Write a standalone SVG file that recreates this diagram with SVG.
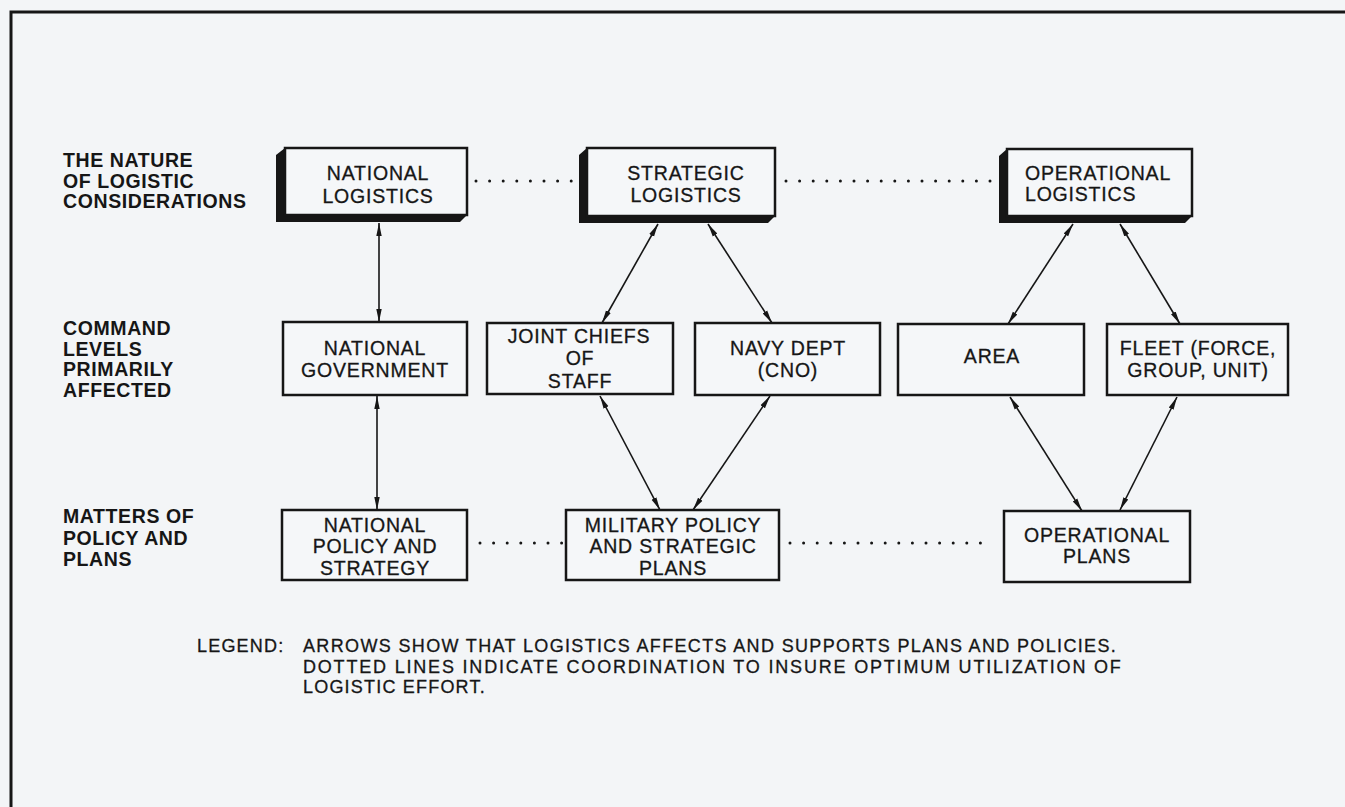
<svg xmlns="http://www.w3.org/2000/svg" width="1345" height="807" viewBox="0 0 1345 807">
  <style>
    .bg { fill: #f3f5f7; }
    .frame { stroke: #161616; stroke-width: 3; fill: none; }
    .box { fill: #f5f7f9; stroke: #161616; stroke-width: 2.5; }
    .shadow { fill: #161616; }
    .t { font-family: "Liberation Sans", Arial, sans-serif; font-size: 19.5px; letter-spacing: 0.8px; fill: #161616; stroke: #161616; stroke-width: 0.3; text-anchor: middle; }
    .tl { text-anchor: start; }
    .lbl { font-family: "Liberation Sans", Arial, sans-serif; font-size: 19.5px; font-weight: bold; letter-spacing: 0.6px; fill: #161616; }
    .leg { font-family: "Liberation Sans", Arial, sans-serif; font-size: 18px; letter-spacing: 1.2px; fill: #161616; stroke: #161616; stroke-width: 0.3; }
    .arrow { stroke: #161616; stroke-width: 1.6; fill: none; marker-start: url(#head); marker-end: url(#head); }
    .dots { stroke: #161616; stroke-width: 3; stroke-linecap: round; stroke-dasharray: 0 13.6; fill: none; }
  </style>
  <defs>
    <marker id="head" viewBox="0 0 13 7" refX="13" refY="3.5" markerWidth="13" markerHeight="7" markerUnits="userSpaceOnUse" orient="auto-start-reverse">
      <path d="M0,0.8 L13,3.5 L0,6.2 Z" fill="#161616"/>
    </marker>
  </defs>

  <rect class="bg" x="0" y="0" width="1345" height="807"/>
  <path class="frame" d="M11,807 V12 H1345"/>

  <!-- row headings -->
  <g id="label-nature">
    <text class="lbl" x="63" y="167">THE NATURE</text>
    <text class="lbl" x="63" y="187.5">OF LOGISTIC</text>
    <text class="lbl" x="63" y="208">CONSIDERATIONS</text>
  </g>
  <g id="label-command">
    <text class="lbl" x="63" y="335">COMMAND</text>
    <text class="lbl" x="63" y="355.5">LEVELS</text>
    <text class="lbl" x="63" y="376">PRIMARILY</text>
    <text class="lbl" x="63" y="397">AFFECTED</text>
  </g>
  <g id="label-matters">
    <text class="lbl" x="63" y="523">MATTERS OF</text>
    <text class="lbl" x="63" y="544.5">POLICY AND</text>
    <text class="lbl" x="63" y="566">PLANS</text>
  </g>

  <!-- connectors -->
  <g id="connectors">
    <line class="dots" x1="476" y1="181" x2="572" y2="181"/>
    <line class="dots" x1="786" y1="181" x2="994" y2="181"/>
    <line class="dots" x1="480" y1="543" x2="562" y2="543"/>
    <line class="dots" x1="790" y1="543" x2="992" y2="543"/>

    <line class="arrow" x1="379" y1="223" x2="379" y2="322"/>
    <line class="arrow" x1="377" y1="396" x2="377" y2="510"/>
    <line class="arrow" x1="658" y1="224" x2="602" y2="323"/>
    <line class="arrow" x1="708" y1="224" x2="772" y2="323"/>
    <line class="arrow" x1="1073" y1="224" x2="1008" y2="324"/>
    <line class="arrow" x1="1120" y1="224" x2="1180" y2="324"/>
    <line class="arrow" x1="600" y1="396" x2="660" y2="510"/>
    <line class="arrow" x1="770" y1="396" x2="693" y2="510"/>
    <line class="arrow" x1="1010" y1="397" x2="1082" y2="511"/>
    <line class="arrow" x1="1177" y1="397" x2="1120" y2="510"/>
  </g>

  <!-- top row: raised boxes -->
  <g id="national-logistics">
    <polygon class="shadow" points="285,148 276,155 276,222 460,222 467,215"/>
    <rect class="box" x="285" y="148" width="182" height="67"/>
    <text class="t" x="378" y="180">NATIONAL</text>
    <text class="t" x="378" y="203">LOGISTICS</text>
  </g>
  <g id="strategic-logistics">
    <polygon class="shadow" points="587,148 579,155 579,223 768,223 775,216"/>
    <rect class="box" x="587" y="148" width="188" height="68"/>
    <text class="t" x="686" y="180">STRATEGIC</text>
    <text class="t" x="686" y="202">LOGISTICS</text>
  </g>
  <g id="operational-logistics">
    <polygon class="shadow" points="1007,149 999,156 999,223 1185,223 1192,216"/>
    <rect class="box" x="1007" y="149" width="185" height="67"/>
    <text class="t tl" x="1025" y="180">OPERATIONAL</text>
    <text class="t tl" x="1025" y="201">LOGISTICS</text>
  </g>

  <!-- middle row: command levels -->
  <g id="national-government">
    <rect class="box" x="283" y="322" width="184" height="73"/>
    <text class="t" x="375" y="355">NATIONAL</text>
    <text class="t" x="375" y="377">GOVERNMENT</text>
  </g>
  <g id="joint-chiefs">
    <rect class="box" x="487" y="323" width="186" height="71"/>
    <text class="t" x="579" y="343">JOINT CHIEFS</text>
    <text class="t" x="580" y="365">OF</text>
    <text class="t" x="580" y="388">STAFF</text>
  </g>
  <g id="navy-dept">
    <rect class="box" x="695" y="323" width="185" height="72"/>
    <text class="t" x="788" y="355">NAVY DEPT</text>
    <text class="t" x="788" y="377">(CNO)</text>
  </g>
  <g id="area">
    <rect class="box" x="898" y="324" width="186" height="71"/>
    <text class="t" x="992" y="363">AREA</text>
  </g>
  <g id="fleet">
    <rect class="box" x="1107" y="324" width="181" height="71"/>
    <text class="t" x="1198" y="355">FLEET (FORCE,</text>
    <text class="t" x="1198" y="377">GROUP, UNIT)</text>
  </g>

  <!-- bottom row: policy and plans -->
  <g id="national-policy">
    <rect class="box" x="282" y="510" width="185" height="70"/>
    <text class="t" x="375" y="532">NATIONAL</text>
    <text class="t" x="375" y="553">POLICY AND</text>
    <text class="t" x="375" y="575">STRATEGY</text>
  </g>
  <g id="military-policy">
    <rect class="box" x="566" y="510" width="213" height="70"/>
    <text class="t" x="673" y="532">MILITARY POLICY</text>
    <text class="t" x="673" y="553">AND STRATEGIC</text>
    <text class="t" x="673" y="575">PLANS</text>
  </g>
  <g id="operational-plans">
    <rect class="box" x="1004" y="511" width="186" height="71"/>
    <text class="t" x="1097" y="542">OPERATIONAL</text>
    <text class="t" x="1097" y="563">PLANS</text>
  </g>

  <!-- legend -->
  <g id="legend">
    <text class="leg" x="197" y="652">LEGEND:</text>
    <text class="leg" x="303" y="652" textLength="814" lengthAdjust="spacing">ARROWS SHOW THAT LOGISTICS AFFECTS AND SUPPORTS PLANS AND POLICIES.</text>
    <text class="leg" x="303" y="672.5" textLength="819" lengthAdjust="spacing">DOTTED LINES INDICATE COORDINATION TO INSURE OPTIMUM UTILIZATION OF</text>
    <text class="leg" x="303" y="693">LOGISTIC EFFORT.</text>
  </g>
</svg>
